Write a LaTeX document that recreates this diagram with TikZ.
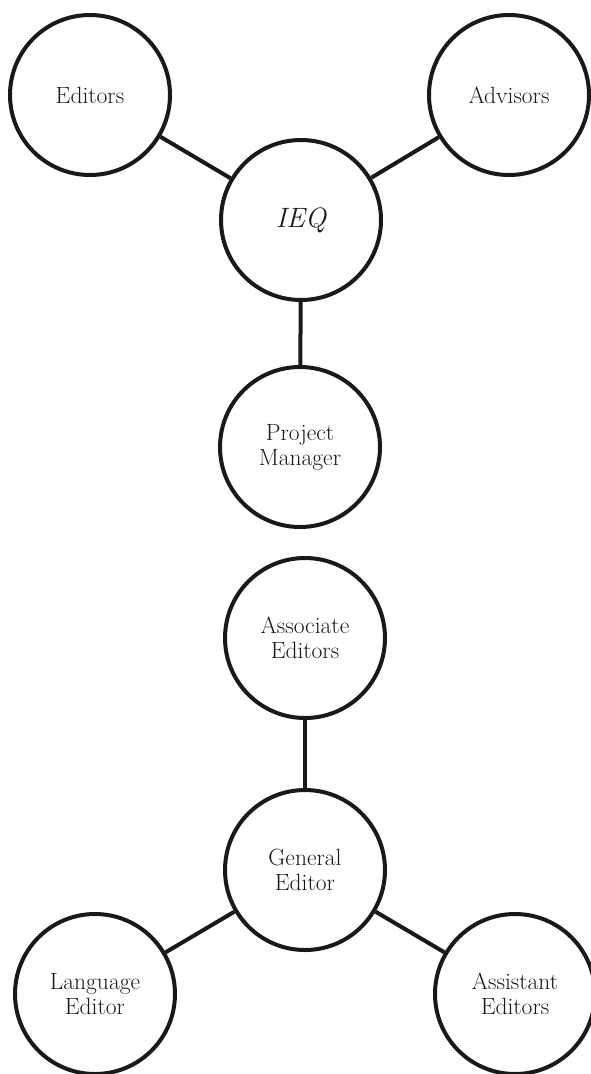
\documentclass[tikz,border=0pt]{standalone}
\begin{document}
\begin{tikzpicture}[
        x=1pt, y=-1pt,
        every node/.style={draw=black!90, circle, minimum size=160pt, inner sep=0pt, line width=4pt, align=center, text=black!90, font=\fontsize{23.5}{25}\selectfont},
        link/.style={draw=black!90, line width=4pt},
    ]
    \useasboundingbox (0,0) rectangle (590,1074);
    % upper group
    \node (editors) at (90,95) {Editors};
    \node (advisors) at (509,95) {Advisors};
    \node[font=\fontsize{28}{30}\selectfont\itshape] (ieq) at (301,220) {IEQ};
    \node (pm) at (300,447) {Project\\Manager};
    % lower group
    \node (assoc) at (305,638) {Associate\\Editors};
    \node (general) at (305,870) {General\\Editor};
    \node (lang) at (95,994) {Language\\Editor};
    \node (assist) at (515,994) {Assistant\\Editors};
    \draw[link] (editors) -- (ieq);
    \draw[link] (advisors) -- (ieq);
    \draw[link] (ieq) -- (pm);
    \draw[link] (assoc) -- (general);
    \draw[link] (general) -- (lang);
    \draw[link] (general) -- (assist);
\end{tikzpicture}
\end{document}
